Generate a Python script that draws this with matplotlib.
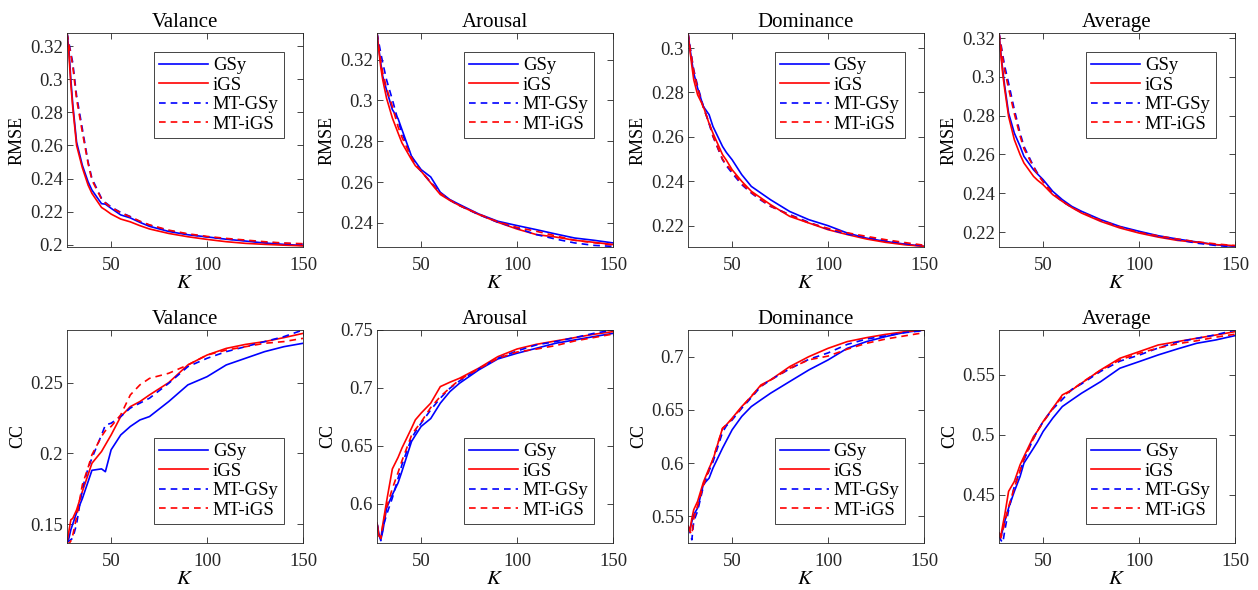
import matplotlib
matplotlib.use("Agg")
import matplotlib.pyplot as plt
from matplotlib.ticker import FuncFormatter

plt.rcParams.update({
    "font.family": "Liberation Serif", "mathtext.fontset": "stix",
    "font.size": 13, "axes.linewidth": 0.6,
    "axes.edgecolor": "#262626", "xtick.color": "#262626", "ytick.color": "#262626",
    "xtick.direction": "in", "ytick.direction": "in",
    "xtick.top": True, "ytick.right": True,
    "xtick.major.size": 4, "ytick.major.size": 4,
    "xtick.major.width": 0.6, "ytick.major.width": 0.6,
})

# --- data -------------------------------------------------------------------------------
K = [27, 28, 29, 30, 32, 35, 38, 40, 45, 47, 50, 55, 60, 65, 70, 80, 90, 100, 110, 120, 130, 140, 150]

methods = ["GSy", "iGS", "MT-GSy", "MT-iGS"]
titles = ["Valance", "Arousal", "Dominance", "Average"]

# RMSE
val_rmse_gsy = [0.328, 0.318, 0.300, 0.285, 0.262, 0.248, 0.238, 0.233, 0.2248, 0.2245, 0.222, 0.218, 0.2162, 0.2135, 0.2111, 0.208, 0.206, 0.2047, 0.2033, 0.2022, 0.201, 0.2002, 0.1995]
val_rmse_igs = [0.328, 0.315, 0.297, 0.283, 0.260, 0.2465, 0.236, 0.231, 0.2225, 0.221, 0.2185, 0.2155, 0.2138, 0.2115, 0.2095, 0.2068, 0.2048, 0.2032, 0.2018, 0.2008, 0.2002, 0.1997, 0.1993]
val_rmse_mtgsy = [0.328, 0.322, 0.316, 0.310, 0.290, 0.270, 0.250, 0.240, 0.228, 0.2255, 0.2228, 0.2195, 0.217, 0.214, 0.2118, 0.2085, 0.2063, 0.2047, 0.2035, 0.2025, 0.2015, 0.2008, 0.2003]
val_rmse_mtigs = [0.328, 0.321, 0.315, 0.308, 0.288, 0.268, 0.249, 0.239, 0.2275, 0.2252, 0.2225, 0.2193, 0.2168, 0.2142, 0.212, 0.2088, 0.2066, 0.205, 0.2038, 0.2028, 0.2018, 0.201, 0.2006]

aro_rmse_gsy = [0.333, 0.325, 0.318, 0.3118, 0.305, 0.2955, 0.291, 0.2857, 0.2726, 0.270, 0.2661, 0.2625, 0.255, 0.2514, 0.249, 0.2444, 0.2408, 0.2387, 0.2367, 0.2346, 0.2326, 0.2315, 0.2302]
aro_rmse_igs = [0.333, 0.324, 0.316, 0.310, 0.301, 0.2914, 0.284, 0.2792, 0.271, 0.268, 0.2653, 0.2596, 0.2539, 0.251, 0.2485, 0.2441, 0.2403, 0.237, 0.2343, 0.2331, 0.2315, 0.2305, 0.2294]
aro_rmse_mtgsy = [0.333, 0.328, 0.323, 0.3184, 0.310, 0.3004, 0.290, 0.2841, 0.2726, 0.269, 0.2653, 0.260, 0.2547, 0.2512, 0.2485, 0.2441, 0.2403, 0.2375, 0.2343, 0.2321, 0.2302, 0.229, 0.2285]
aro_rmse_mtigs = [0.333, 0.326, 0.319, 0.3135, 0.306, 0.297, 0.287, 0.282, 0.2718, 0.2685, 0.2655, 0.2598, 0.2545, 0.2512, 0.2485, 0.2443, 0.2405, 0.2378, 0.2359, 0.2337, 0.2315, 0.2303, 0.2292]

dom_rmse_gsy = [0.3068, 0.300, 0.294, 0.2887, 0.282, 0.2737, 0.270, 0.2647, 0.2557, 0.253, 0.2497, 0.243, 0.2377, 0.2347, 0.2317, 0.2264, 0.2227, 0.220, 0.2167, 0.2144, 0.2129, 0.2117, 0.2107]
dom_rmse_igs = [0.3068, 0.299, 0.292, 0.2857, 0.279, 0.2737, 0.266, 0.2617, 0.252, 0.2495, 0.2452, 0.240, 0.2355, 0.2325, 0.2295, 0.2242, 0.2212, 0.2182, 0.216, 0.214, 0.2125, 0.2114, 0.2107]
dom_rmse_mtgsy = [0.3068, 0.301, 0.2955, 0.2902, 0.283, 0.2737, 0.266, 0.2602, 0.2497, 0.247, 0.2437, 0.2385, 0.2347, 0.2315, 0.2287, 0.225, 0.2215, 0.2185, 0.2162, 0.2147, 0.2134, 0.2119, 0.211]
dom_rmse_mtigs = [0.3068, 0.3005, 0.295, 0.2895, 0.282, 0.273, 0.2665, 0.2605, 0.250, 0.2475, 0.2445, 0.239, 0.235, 0.2318, 0.2288, 0.2248, 0.2212, 0.2188, 0.2168, 0.2152, 0.2137, 0.2124, 0.2112]

avg_rmse_gsy = [0.3226, 0.312, 0.303, 0.2951, 0.2813, 0.271, 0.2642, 0.259, 0.2521, 0.250, 0.247, 0.241, 0.2367, 0.2332, 0.2307, 0.2264, 0.2229, 0.2204, 0.2181, 0.2164, 0.2149, 0.2135, 0.2126]
avg_rmse_igs = [0.3226, 0.311, 0.301, 0.2934, 0.2796, 0.2676, 0.2599, 0.2556, 0.2487, 0.2468, 0.2444, 0.2393, 0.2358, 0.2326, 0.2298, 0.2255, 0.2221, 0.2195, 0.2174, 0.2157, 0.2147, 0.2135, 0.213]
avg_rmse_mtgsy = [0.3226, 0.317, 0.311, 0.3054, 0.2968, 0.2831, 0.271, 0.2642, 0.2539, 0.2505, 0.2461, 0.2401, 0.2358, 0.2328, 0.2303, 0.226, 0.2226, 0.220, 0.2178, 0.2161, 0.2143, 0.2131, 0.2123]
avg_rmse_mtigs = [0.3226, 0.316, 0.309, 0.303, 0.294, 0.281, 0.2695, 0.263, 0.2535, 0.250, 0.2458, 0.240, 0.2358, 0.2327, 0.2302, 0.226, 0.2226, 0.2198, 0.218, 0.2164, 0.215, 0.2139, 0.213]

# CC
val_cc_gsy = [0.137, 0.140, 0.146, 0.150, 0.158, 0.168, 0.180, 0.188, 0.189, 0.187, 0.2025, 0.213, 0.219, 0.2236, 0.226, 0.2366, 0.2484, 0.2542, 0.2625, 0.2672, 0.2719, 0.2754, 0.2778]
val_cc_igs = [0.137, 0.145, 0.153, 0.154, 0.160, 0.173, 0.185, 0.193, 0.2013, 0.206, 0.213, 0.226, 0.233, 0.2366, 0.2413, 0.250, 0.2625, 0.2695, 0.2742, 0.277, 0.279, 0.2818, 0.2848]
val_cc_mtgsy = [0.137, 0.138, 0.139, 0.140, 0.150, 0.175, 0.1895, 0.1966, 0.213, 0.220, 0.2213, 0.226, 0.232, 0.2355, 0.239, 0.2495, 0.2613, 0.2672, 0.2719, 0.2754, 0.279, 0.2825, 0.2872]
val_cc_mtigs = [0.137, 0.136, 0.138, 0.142, 0.155, 0.1778, 0.190, 0.199, 0.212, 0.216, 0.219, 0.2272, 0.2413, 0.2484, 0.253, 0.2566, 0.2625, 0.2695, 0.273, 0.2754, 0.2778, 0.279, 0.2813]

aro_cc_gsy = [0.583, 0.574, 0.569, 0.576, 0.5962, 0.6077, 0.618, 0.6279, 0.6537, 0.659, 0.6667, 0.6735, 0.6868, 0.6968, 0.704, 0.7155, 0.725, 0.7299, 0.7342, 0.7385, 0.7414, 0.7443, 0.7471]
aro_cc_igs = [0.583, 0.572, 0.570, 0.5819, 0.602, 0.630, 0.640, 0.648, 0.6652, 0.6724, 0.6782, 0.6868, 0.7011, 0.7049, 0.7083, 0.717, 0.727, 0.7336, 0.7376, 0.7405, 0.7434, 0.7463, 0.7486]
aro_cc_mtgsy = [0.583, 0.574, 0.568, 0.579, 0.5905, 0.6049, 0.622, 0.6336, 0.6566, 0.662, 0.6695, 0.681, 0.6911, 0.6997, 0.706, 0.7164, 0.7256, 0.7319, 0.7371, 0.740, 0.7434, 0.7471, 0.750]
aro_cc_mtigs = [0.583, 0.573, 0.570, 0.581, 0.597, 0.613, 0.627, 0.637, 0.659, 0.664, 0.6705, 0.683, 0.6925, 0.700, 0.707, 0.7165, 0.7255, 0.731, 0.7335, 0.7365, 0.7405, 0.7435, 0.7465]

dom_cc_gsy = [0.541, 0.537, 0.545, 0.5516, 0.5578, 0.580, 0.5859, 0.5953, 0.6141, 0.621, 0.6313, 0.6438, 0.6531, 0.6594, 0.6656, 0.6766, 0.6875, 0.6969, 0.7078, 0.7141, 0.7188, 0.7228, 0.725]
dom_cc_igs = [0.541, 0.537, 0.548, 0.5563, 0.5641, 0.582, 0.5953, 0.6031, 0.6328, 0.636, 0.6422, 0.6531, 0.6625, 0.6734, 0.6781, 0.6906, 0.700, 0.7078, 0.7141, 0.7178, 0.7209, 0.7234, 0.725]
dom_cc_mtgsy = [0.540, 0.535, 0.528, 0.5453, 0.555, 0.578, 0.593, 0.601, 0.629, 0.635, 0.6405, 0.6515, 0.6615, 0.672, 0.678, 0.6885, 0.6975, 0.7035, 0.7115, 0.7165, 0.7195, 0.7225, 0.7245]
dom_cc_mtigs = [0.540, 0.536, 0.533, 0.548, 0.560, 0.579, 0.594, 0.604, 0.6325, 0.636, 0.6415, 0.6525, 0.663, 0.6725, 0.678, 0.689, 0.697, 0.7005, 0.707, 0.7125, 0.7165, 0.7195, 0.7225]

avg_cc_gsy = [0.418, 0.415, 0.421, 0.4278, 0.4389, 0.4528, 0.4653, 0.4764, 0.4889, 0.494, 0.5028, 0.5139, 0.5236, 0.5292, 0.5347, 0.5444, 0.5556, 0.5611, 0.5667, 0.5717, 0.5764, 0.5792, 0.5828]
avg_cc_igs = [0.418, 0.416, 0.425, 0.4333, 0.4528, 0.4611, 0.475, 0.4819, 0.4986, 0.503, 0.5111, 0.5222, 0.5333, 0.5375, 0.5431, 0.5542, 0.5639, 0.5694, 0.575, 0.5778, 0.5806, 0.5833, 0.5861]
avg_cc_mtgsy = [0.416, 0.412, 0.410, 0.420, 0.437, 0.457, 0.470, 0.479, 0.497, 0.503, 0.511, 0.5215, 0.5295, 0.538, 0.5425, 0.553, 0.5615, 0.5665, 0.5725, 0.5775, 0.5805, 0.5835, 0.5875]
avg_cc_mtigs = [0.416, 0.414, 0.420, 0.427, 0.440, 0.456, 0.470, 0.480, 0.497, 0.503, 0.5105, 0.522, 0.532, 0.5375, 0.5435, 0.554, 0.5625, 0.568, 0.5725, 0.576, 0.5785, 0.5815, 0.584]

rmse = [
    [val_rmse_gsy, val_rmse_igs, val_rmse_mtgsy, val_rmse_mtigs],
    [aro_rmse_gsy, aro_rmse_igs, aro_rmse_mtgsy, aro_rmse_mtigs],
    [dom_rmse_gsy, dom_rmse_igs, dom_rmse_mtgsy, dom_rmse_mtigs],
    [avg_rmse_gsy, avg_rmse_igs, avg_rmse_mtgsy, avg_rmse_mtigs],
]
cc = [
    [val_cc_gsy, val_cc_igs, val_cc_mtgsy, val_cc_mtigs],
    [aro_cc_gsy, aro_cc_igs, aro_cc_mtgsy, aro_cc_mtigs],
    [dom_cc_gsy, dom_cc_igs, dom_cc_mtgsy, dom_cc_mtigs],
    [avg_cc_gsy, avg_cc_igs, avg_cc_mtgsy, avg_cc_mtigs],
]

rmse_ticks = [[0.2, 0.22, 0.24, 0.26, 0.28, 0.3, 0.32], [0.24, 0.26, 0.28, 0.3, 0.32],
              [0.22, 0.24, 0.26, 0.28, 0.3], [0.22, 0.24, 0.26, 0.28, 0.3, 0.32]]
cc_ticks = [[0.15, 0.2, 0.25], [0.6, 0.65, 0.7, 0.75], [0.55, 0.6, 0.65, 0.7], [0.45, 0.5, 0.55]]
rmse_lim = [(0.1986, 0.328), (0.2282, 0.333), (0.2104, 0.3068), (0.2123, 0.3226)]
cc_lim = [(0.1366, 0.2872), (0.566, 0.750), (0.525, 0.725), (0.4097, 0.5875)]

# --- style -------------------------------------------------------------------------------
colors = ["#0000ff", "#ff0000", "#0000ff", "#ff0000"]
styles = ["-", "-", (0, (4, 3)), (0, (4, 3))]
W, H = 1258, 590
lefts = [67, 377, 688, 999]
aw = 236
rows = [(33, 247), (330, 543)]

fig = plt.figure(figsize=(W / 100, H / 100), dpi=100)
fmt = FuncFormatter(lambda v, p: f"{v:g}")


def panel(ax, series, ticks, lim, ylabel, title, loc):
    for s, c, ls, name in zip(series, colors, styles, methods):
        ax.plot(K, s, color=c, ls=ls, lw=1.2, label=name)
    ax.set_xlim(27, 150)
    ax.set_xticks([50, 100, 150])
    ax.set_ylim(*lim)
    ax.set_yticks(ticks)
    ax.yaxis.set_major_formatter(fmt)
    ax.set_title(title, fontsize=15, pad=4)
    ax.set_xlabel("$K$", fontsize=15, labelpad=0)
    ax.set_ylabel(ylabel, fontsize=13, labelpad=3)
    ax.tick_params(labelsize=13.5, pad=3)
    ax.tick_params(axis="x", pad=7)
    leg = ax.legend(loc=loc, fontsize=13.5, handlelength=2.6, handletextpad=0.25,
                    labelspacing=0.12, borderpad=0.3, borderaxespad=1.0,
                    fancybox=False, framealpha=1)
    leg.get_frame().set_edgecolor("#262626")
    leg.get_frame().set_linewidth(0.6)


for i in range(4):
    for r, (data, ticks, lim, lab, loc) in enumerate([
            (rmse[i], rmse_ticks[i], rmse_lim[i], "RMSE", "upper right"),
            (cc[i], cc_ticks[i], cc_lim[i], "CC", "lower right")]):
        top, bot = rows[r]
        ax = fig.add_axes([lefts[i] / W, 1 - bot / H, aw / W, (bot - top) / H])
        panel(ax, data, ticks, lim, lab, titles[i], loc)

fig.savefig("out.png", dpi=100)
